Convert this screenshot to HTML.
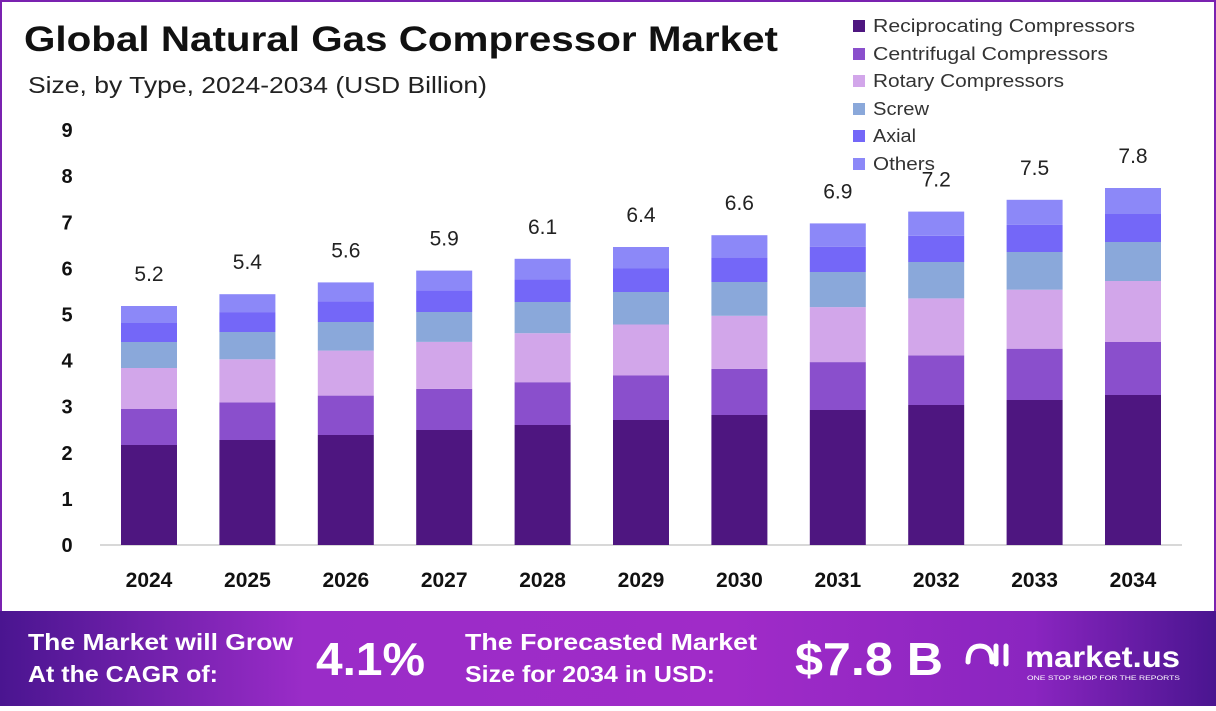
<!DOCTYPE html>
<html><head><meta charset="utf-8"><style>
body{margin:0;width:1216px;height:706px;overflow:hidden;font-family:"Liberation Sans",sans-serif;background:#fff}
</style></head><body>
<svg id="s" width="1216" height="706" xmlns="http://www.w3.org/2000/svg" font-family="Liberation Sans, sans-serif">
<defs>
<linearGradient id="bg" x1="0" x2="1" y1="0" y2="0">
<stop offset="0" stop-color="#4a1590"/><stop offset="0.25" stop-color="#9a2cc8"/><stop offset="0.6" stop-color="#a02bc8"/><stop offset="0.85" stop-color="#8a25c0"/><stop offset="1" stop-color="#4a1590"/>
</linearGradient>
</defs>
<rect x="1" y="1" width="1214" height="704" fill="#fff" stroke="#7a22b0" stroke-width="2"/>
<text x="24" y="51" font-size="35" font-weight="bold" fill="#111" textLength="754" lengthAdjust="spacingAndGlyphs">Global Natural Gas Compressor Market</text>
<text x="28" y="93" font-size="23" fill="#222" textLength="459" lengthAdjust="spacingAndGlyphs">Size, by Type, 2024-2034 (USD Billion)</text>
<g id="legend" font-size="18" fill="#333"></g>
<g id="yax" font-size="20" font-weight="bold" fill="#111" text-anchor="middle"></g>
<line x1="100" y1="545" x2="1182" y2="545" stroke="#ccc" stroke-width="1.5"/>
<g id="bars"></g>
<rect x="0" y="611" width="1216" height="95" fill="url(#bg)"/>
<g fill="#fff" font-weight="bold">
<text x="28" y="650" font-size="23" textLength="265" lengthAdjust="spacingAndGlyphs">The Market will Grow</text>
<text x="28" y="682" font-size="23" textLength="190" lengthAdjust="spacingAndGlyphs">At the CAGR of:</text>
<text x="316" y="675" font-size="46" textLength="109" lengthAdjust="spacingAndGlyphs">4.1%</text>
<text x="465" y="650" font-size="23" textLength="292" lengthAdjust="spacingAndGlyphs">The Forecasted Market</text>
<text x="465" y="682" font-size="23" textLength="250" lengthAdjust="spacingAndGlyphs">Size for 2034 in USD:</text>
<text x="795" y="675" font-size="46" textLength="148" lengthAdjust="spacingAndGlyphs">$7.8 B</text>
<text x="1025" y="667" font-size="30" textLength="155" lengthAdjust="spacingAndGlyphs">market.us</text>
<text x="1027" y="680" font-size="6.5" font-weight="normal" textLength="153" lengthAdjust="spacingAndGlyphs">ONE STOP SHOP FOR THE REPORTS</text>
<path d="M968 662 q0-16 12-16 q12 0 12 16 M996 646 v18 M1006 646 v18" stroke="#fff" stroke-width="5" fill="none" stroke-linecap="round"/>
</g>
</svg>
<script>
var NS="http://www.w3.org/2000/svg";
function el(p,t,a,txt){var e=document.createElementNS(NS,t);for(var k in a)e.setAttribute(k,a[k]);if(txt!=null)e.textContent=txt;document.getElementById(p).appendChild(e);}
var cols=["#4e1680","#8a4fcc","#d2a6ea","#8aa8da","#7467f8","#8c88f8"];
var names=["Reciprocating Compressors","Centrifugal Compressors","Rotary Compressors","Screw","Axial","Others"];
var lens=[262,235,191,56,43,62];
var ly=[26,54,81,109,136,164];
for(var i=0;i<6;i++){el("legend","rect",{x:853,y:ly[i]-6,width:12,height:12,fill:cols[i]});el("legend","text",{x:873,y:ly[i]+6,textLength:lens[i],lengthAdjust:"spacingAndGlyphs"},names[i]);}
for(var v=0;v<=9;v++){el("yax","text",{x:67,y:545-v*46.1+7},String(v));}
var a=[445,409,368,342,323,306],b=[395,342,281,242,214,188];
var vals=["5.2","5.4","5.6","5.9","6.1","6.4","6.6","6.9","7.2","7.5","7.8"];
for(var j=0;j<11;j++){
 var cx=149+j*98.4,x=cx-28,prev=545;
 for(var k=0;k<6;k++){var y=a[k]+(b[k]-a[k])*j/10;el("bars","rect",{x:x,y:y,width:56,height:prev-y,fill:cols[k]});prev=y;}
 el("bars","text",{x:cx,y:prev-25,"font-size":21,"text-anchor":"middle",fill:"#222"},vals[j]);
 el("bars","text",{x:cx,y:587,"font-size":21,"font-weight":"bold","text-anchor":"middle",fill:"#111"},String(2024+j));
}
</script>
</body></html>
